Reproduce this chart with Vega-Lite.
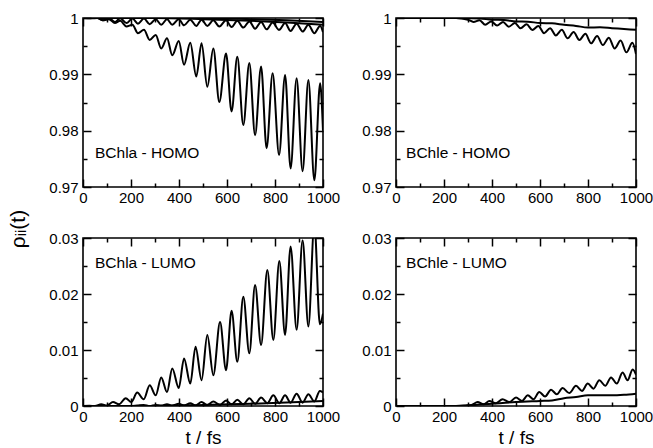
{
"$schema": "https://vega.github.io/schema/vega-lite/v6.json",
"padding": {"left": 8, "top": 10, "right": 5, "bottom": 0},
"background": "white",
"config": {
  "view": {"stroke": "black", "strokeWidth": 1.6},
  "font": "Liberation Sans",
  "axis": {"domain": false, "grid": false, "labelFlush": false, "labelOverlap": false, "labelFont": "Liberation Sans", "labelFontSize": 15, "labelColor": "black", "tickColor": "black", "tickWidth": 1.5, "titleFont": "Liberation Sans", "titleFontSize": 19, "titleFontWeight": "normal", "titleColor": "black"},
  "title": {"font": "Liberation Sans", "fontSize": 21, "fontWeight": "normal", "color": "black"}
},
"title": {"text": "ρᵢᵢ(t)", "orient": "left", "anchor": "middle", "offset": 19},
"datasets": {"d": [
{"p":"aH","s":1,"t":0,"v":1},{"p":"aH","s":1,"t":35,"v":0.99995},{"p":"aH","s":1,"t":60,"v":1},{"p":"aH","s":1,"t":83,"v":0.9996},{"p":"aH","s":1,"t":108,"v":0.9998},{"p":"aH","s":1,"t":133,"v":0.9991},{"p":"aH","s":1,"t":155,"v":0.9995},{"p":"aH","s":1,"t":181,"v":0.9985},{"p":"aH","s":1,"t":206,"v":0.9988},{"p":"aH","s":1,"t":229,"v":0.9973},{"p":"aH","s":1,"t":254,"v":0.9979},{"p":"aH","s":1,"t":278,"v":0.9961},{"p":"aH","s":1,"t":303,"v":0.997},{"p":"aH","s":1,"t":326,"v":0.9946},{"p":"aH","s":1,"t":350,"v":0.9964},{"p":"aH","s":1,"t":372,"v":0.9934},{"p":"aH","s":1,"t":399,"v":0.9959},{"p":"aH","s":1,"t":421,"v":0.9917},{"p":"aH","s":1,"t":447,"v":0.9956},{"p":"aH","s":1,"t":472,"v":0.9896},{"p":"aH","s":1,"t":494,"v":0.9955},{"p":"aH","s":1,"t":518,"v":0.9878},{"p":"aH","s":1,"t":543,"v":0.9946},{"p":"aH","s":1,"t":568,"v":0.9851},{"p":"aH","s":1,"t":596,"v":0.9937},{"p":"aH","s":1,"t":619,"v":0.9834},{"p":"aH","s":1,"t":643,"v":0.9931},{"p":"aH","s":1,"t":668,"v":0.981},{"p":"aH","s":1,"t":693,"v":0.992},{"p":"aH","s":1,"t":717,"v":0.9792},{"p":"aH","s":1,"t":742,"v":0.9914},{"p":"aH","s":1,"t":765,"v":0.9769},{"p":"aH","s":1,"t":790,"v":0.9902},{"p":"aH","s":1,"t":817,"v":0.9757},{"p":"aH","s":1,"t":842,"v":0.9899},{"p":"aH","s":1,"t":865,"v":0.9733},{"p":"aH","s":1,"t":890,"v":0.9893},{"p":"aH","s":1,"t":915,"v":0.9728},{"p":"aH","s":1,"t":939,"v":0.989},{"p":"aH","s":1,"t":964,"v":0.9712},{"p":"aH","s":1,"t":988,"v":0.9884},{"p":"aH","s":1,"t":1000,"v":0.98},
{"p":"aH","s":2,"t":0,"v":1},{"p":"aH","s":2,"t":60,"v":1},{"p":"aH","s":2,"t":83,"v":0.9996},{"p":"aH","s":2,"t":108,"v":0.99995},{"p":"aH","s":2,"t":133,"v":0.9993},{"p":"aH","s":2,"t":155,"v":0.99995},{"p":"aH","s":2,"t":181,"v":0.9991},{"p":"aH","s":2,"t":206,"v":0.9999},{"p":"aH","s":2,"t":229,"v":0.999},{"p":"aH","s":2,"t":254,"v":0.9999},{"p":"aH","s":2,"t":278,"v":0.9989},{"p":"aH","s":2,"t":303,"v":0.9998},{"p":"aH","s":2,"t":326,"v":0.9988},{"p":"aH","s":2,"t":350,"v":0.9998},{"p":"aH","s":2,"t":372,"v":0.9988},{"p":"aH","s":2,"t":399,"v":0.9998},{"p":"aH","s":2,"t":421,"v":0.9987},{"p":"aH","s":2,"t":447,"v":0.9997},{"p":"aH","s":2,"t":472,"v":0.9986},{"p":"aH","s":2,"t":494,"v":0.9997},{"p":"aH","s":2,"t":518,"v":0.9986},{"p":"aH","s":2,"t":543,"v":0.9996},{"p":"aH","s":2,"t":568,"v":0.9985},{"p":"aH","s":2,"t":596,"v":0.9996},{"p":"aH","s":2,"t":619,"v":0.9984},{"p":"aH","s":2,"t":643,"v":0.9995},{"p":"aH","s":2,"t":668,"v":0.9983},{"p":"aH","s":2,"t":693,"v":0.9994},{"p":"aH","s":2,"t":717,"v":0.9981},{"p":"aH","s":2,"t":742,"v":0.9993},{"p":"aH","s":2,"t":765,"v":0.998},{"p":"aH","s":2,"t":790,"v":0.9992},{"p":"aH","s":2,"t":817,"v":0.9979},{"p":"aH","s":2,"t":842,"v":0.9991},{"p":"aH","s":2,"t":865,"v":0.9977},{"p":"aH","s":2,"t":890,"v":0.999},{"p":"aH","s":2,"t":915,"v":0.9976},{"p":"aH","s":2,"t":939,"v":0.9988},{"p":"aH","s":2,"t":964,"v":0.9973},{"p":"aH","s":2,"t":988,"v":0.9986},{"p":"aH","s":2,"t":1000,"v":0.9975},
{"p":"aH","s":3,"t":0,"v":1},{"p":"aH","s":3,"t":300,"v":1},{"p":"aH","s":3,"t":500,"v":0.9998},{"p":"aH","s":3,"t":700,"v":0.9995},{"p":"aH","s":3,"t":850,"v":0.9992},{"p":"aH","s":3,"t":1000,"v":0.9988},
{"p":"aH","s":4,"t":0,"v":1},{"p":"aH","s":4,"t":500,"v":1},{"p":"aH","s":4,"t":700,"v":0.9998},{"p":"aH","s":4,"t":850,"v":0.9996},{"p":"aH","s":4,"t":1000,"v":0.9993},
{"p":"eH","s":1,"t":0,"v":1},{"p":"eH","s":1,"t":250,"v":1},{"p":"eH","s":1,"t":300,"v":0.99995},{"p":"eH","s":1,"t":350,"v":0.9999},{"p":"eH","s":1,"t":400,"v":0.9997},{"p":"eH","s":1,"t":450,"v":0.99965},{"p":"eH","s":1,"t":500,"v":0.9994},{"p":"eH","s":1,"t":550,"v":0.99935},{"p":"eH","s":1,"t":600,"v":0.9991},{"p":"eH","s":1,"t":650,"v":0.99905},{"p":"eH","s":1,"t":700,"v":0.9988},{"p":"eH","s":1,"t":750,"v":0.9986},{"p":"eH","s":1,"t":800,"v":0.9983},{"p":"eH","s":1,"t":850,"v":0.99835},{"p":"eH","s":1,"t":900,"v":0.9982},{"p":"eH","s":1,"t":950,"v":0.99805},{"p":"eH","s":1,"t":1000,"v":0.9979},
{"p":"eH","s":2,"t":0,"v":1},{"p":"eH","s":2,"t":250,"v":1},{"p":"eH","s":2,"t":300,"v":0.9997},{"p":"eH","s":2,"t":323,"v":0.9993},{"p":"eH","s":2,"t":348,"v":0.9996},{"p":"eH","s":2,"t":372,"v":0.9988},{"p":"eH","s":2,"t":397,"v":0.9994},{"p":"eH","s":2,"t":421,"v":0.99865},{"p":"eH","s":2,"t":446,"v":0.9993},{"p":"eH","s":2,"t":470,"v":0.99846},{"p":"eH","s":2,"t":495,"v":0.9991},{"p":"eH","s":2,"t":519,"v":0.99817},{"p":"eH","s":2,"t":544,"v":0.9989},{"p":"eH","s":2,"t":568,"v":0.99787},{"p":"eH","s":2,"t":593,"v":0.9986},{"p":"eH","s":2,"t":617,"v":0.9973},{"p":"eH","s":2,"t":642,"v":0.9982},{"p":"eH","s":2,"t":666,"v":0.9969},{"p":"eH","s":2,"t":691,"v":0.9979},{"p":"eH","s":2,"t":715,"v":0.9964},{"p":"eH","s":2,"t":740,"v":0.9975},{"p":"eH","s":2,"t":764,"v":0.9961},{"p":"eH","s":2,"t":789,"v":0.9972},{"p":"eH","s":2,"t":813,"v":0.9955},{"p":"eH","s":2,"t":838,"v":0.9968},{"p":"eH","s":2,"t":862,"v":0.9952},{"p":"eH","s":2,"t":887,"v":0.9965},{"p":"eH","s":2,"t":911,"v":0.9946},{"p":"eH","s":2,"t":936,"v":0.996},{"p":"eH","s":2,"t":960,"v":0.9939},{"p":"eH","s":2,"t":985,"v":0.9956},{"p":"eH","s":2,"t":1000,"v":0.9936},
{"p":"aL","s":1,"t":0,"v":0},{"p":"aL","s":1,"t":27,"v":0.00003},{"p":"aL","s":1,"t":50,"v":0},{"p":"aL","s":1,"t":76,"v":0.0003},{"p":"aL","s":1,"t":100,"v":0.0001},{"p":"aL","s":1,"t":125,"v":0.0007},{"p":"aL","s":1,"t":150,"v":0.0003},{"p":"aL","s":1,"t":178,"v":0.0014},{"p":"aL","s":1,"t":201,"v":0.0007},{"p":"aL","s":1,"t":226,"v":0.0024},{"p":"aL","s":1,"t":253,"v":0.0012},{"p":"aL","s":1,"t":278,"v":0.0037},{"p":"aL","s":1,"t":303,"v":0.0019},{"p":"aL","s":1,"t":326,"v":0.0051},{"p":"aL","s":1,"t":350,"v":0.0025},{"p":"aL","s":1,"t":372,"v":0.0067},{"p":"aL","s":1,"t":399,"v":0.0032},{"p":"aL","s":1,"t":421,"v":0.0085},{"p":"aL","s":1,"t":447,"v":0.004},{"p":"aL","s":1,"t":469,"v":0.0106},{"p":"aL","s":1,"t":494,"v":0.0046},{"p":"aL","s":1,"t":518,"v":0.0127},{"p":"aL","s":1,"t":543,"v":0.0055},{"p":"aL","s":1,"t":571,"v":0.015},{"p":"aL","s":1,"t":596,"v":0.0064},{"p":"aL","s":1,"t":619,"v":0.017},{"p":"aL","s":1,"t":643,"v":0.0079},{"p":"aL","s":1,"t":668,"v":0.0195},{"p":"aL","s":1,"t":693,"v":0.0094},{"p":"aL","s":1,"t":717,"v":0.0216},{"p":"aL","s":1,"t":742,"v":0.0109},{"p":"aL","s":1,"t":768,"v":0.0243},{"p":"aL","s":1,"t":793,"v":0.0118},{"p":"aL","s":1,"t":818,"v":0.0259},{"p":"aL","s":1,"t":842,"v":0.0127},{"p":"aL","s":1,"t":865,"v":0.0285},{"p":"aL","s":1,"t":890,"v":0.0136},{"p":"aL","s":1,"t":915,"v":0.0296},{"p":"aL","s":1,"t":939,"v":0.0142},{"p":"aL","s":1,"t":964,"v":0.0325},{"p":"aL","s":1,"t":987,"v":0.0146},{"p":"aL","s":1,"t":1000,"v":0.0165},
{"p":"aL","s":2,"t":0,"v":0},{"p":"aL","s":2,"t":200,"v":0},{"p":"aL","s":2,"t":226,"v":0.0001},{"p":"aL","s":2,"t":253,"v":0.0002},{"p":"aL","s":2,"t":278,"v":0},{"p":"aL","s":2,"t":303,"v":0.0002},{"p":"aL","s":2,"t":326,"v":0.0001},{"p":"aL","s":2,"t":350,"v":0.0003},{"p":"aL","s":2,"t":372,"v":0.0001},{"p":"aL","s":2,"t":399,"v":0.0004},{"p":"aL","s":2,"t":421,"v":0.0001},{"p":"aL","s":2,"t":447,"v":0.0005},{"p":"aL","s":2,"t":469,"v":0.0001},{"p":"aL","s":2,"t":494,"v":0.0007},{"p":"aL","s":2,"t":518,"v":0.0002},{"p":"aL","s":2,"t":543,"v":0.0008},{"p":"aL","s":2,"t":571,"v":0.0002},{"p":"aL","s":2,"t":596,"v":0.001},{"p":"aL","s":2,"t":619,"v":0.0003},{"p":"aL","s":2,"t":643,"v":0.0011},{"p":"aL","s":2,"t":668,"v":0.0003},{"p":"aL","s":2,"t":693,"v":0.0014},{"p":"aL","s":2,"t":717,"v":0.0004},{"p":"aL","s":2,"t":742,"v":0.0015},{"p":"aL","s":2,"t":768,"v":0.0005},{"p":"aL","s":2,"t":793,"v":0.0019},{"p":"aL","s":2,"t":818,"v":0.0005},{"p":"aL","s":2,"t":842,"v":0.0019},{"p":"aL","s":2,"t":865,"v":0.0006},{"p":"aL","s":2,"t":890,"v":0.0022},{"p":"aL","s":2,"t":915,"v":0.0006},{"p":"aL","s":2,"t":939,"v":0.0021},{"p":"aL","s":2,"t":964,"v":0.0008},{"p":"aL","s":2,"t":987,"v":0.0027},{"p":"aL","s":2,"t":1000,"v":0.0024},
{"p":"aL","s":3,"t":0,"v":0},{"p":"aL","s":3,"t":300,"v":0},{"p":"aL","s":3,"t":500,"v":0.0002},{"p":"aL","s":3,"t":700,"v":0.0004},{"p":"aL","s":3,"t":900,"v":0.0007},{"p":"aL","s":3,"t":1000,"v":0.0009},
{"p":"eL","s":1,"t":0,"v":0},{"p":"eL","s":1,"t":250,"v":0},{"p":"eL","s":1,"t":290,"v":0.0001},{"p":"eL","s":1,"t":315,"v":0.0002},{"p":"eL","s":1,"t":340,"v":0.0007},{"p":"eL","s":1,"t":365,"v":0.0003},{"p":"eL","s":1,"t":389,"v":0.0009},{"p":"eL","s":1,"t":416,"v":0.0005},{"p":"eL","s":1,"t":444,"v":0.0012},{"p":"eL","s":1,"t":472,"v":0.0007},{"p":"eL","s":1,"t":500,"v":0.0015},{"p":"eL","s":1,"t":525,"v":0.0009},{"p":"eL","s":1,"t":549,"v":0.0019},{"p":"eL","s":1,"t":573,"v":0.0012},{"p":"eL","s":1,"t":597,"v":0.0025},{"p":"eL","s":1,"t":621,"v":0.0017},{"p":"eL","s":1,"t":646,"v":0.0029},{"p":"eL","s":1,"t":670,"v":0.0021},{"p":"eL","s":1,"t":694,"v":0.0032},{"p":"eL","s":1,"t":722,"v":0.0023},{"p":"eL","s":1,"t":750,"v":0.0036},{"p":"eL","s":1,"t":775,"v":0.0027},{"p":"eL","s":1,"t":799,"v":0.004},{"p":"eL","s":1,"t":823,"v":0.0031},{"p":"eL","s":1,"t":847,"v":0.0046},{"p":"eL","s":1,"t":872,"v":0.0036},{"p":"eL","s":1,"t":896,"v":0.0051},{"p":"eL","s":1,"t":920,"v":0.004},{"p":"eL","s":1,"t":944,"v":0.006},{"p":"eL","s":1,"t":965,"v":0.0046},{"p":"eL","s":1,"t":986,"v":0.0065},{"p":"eL","s":1,"t":1000,"v":0.0056},
{"p":"eL","s":2,"t":0,"v":0},{"p":"eL","s":2,"t":250,"v":0},{"p":"eL","s":2,"t":300,"v":0.0001},{"p":"eL","s":2,"t":400,"v":0.0004},{"p":"eL","s":2,"t":500,"v":0.0007},{"p":"eL","s":2,"t":600,"v":0.0009},{"p":"eL","s":2,"t":650,"v":0.001},{"p":"eL","s":2,"t":700,"v":0.0014},{"p":"eL","s":2,"t":750,"v":0.0016},{"p":"eL","s":2,"t":800,"v":0.0019},{"p":"eL","s":2,"t":850,"v":0.0019},{"p":"eL","s":2,"t":900,"v":0.0019},{"p":"eL","s":2,"t":950,"v":0.002},{"p":"eL","s":2,"t":1000,"v":0.0022}
]},
"columns": 2,
"spacing": {"row": 51, "column": 73},
"bounds": "flush",
"concat": [
{"width": 240, "height": 169,
 "layer": [
  {"data": {"name": "d"}, "transform": [{"filter": "datum.p === 'aH'"}],
   "mark": {"type": "line", "interpolate": "monotone", "clip": true, "color": "black", "strokeWidth": 2},
   "encoding": {
    "x": {"field": "t", "type": "quantitative", "scale": {"domain": [0, 1000], "nice": false}, "axis": {"orient": "bottom", "title": null, "values": [0,100,200,300,400,500,600,700,800,900,1000], "format": "d", "labelExpr": "datum.value % 200 === 0 ? datum.label : ''", "tickSize": {"condition": {"test": "datum.value % 200 === 0", "value": -8}, "value": -4}, "labelPadding": 11}},
    "y": {"field": "v", "type": "quantitative", "scale": {"domain": [0.97, 1], "nice": false, "zero": false}, "axis": {"orient": "left", "title": null, "values": [0.97,0.975,0.98,0.985,0.99,0.995,1], "labelExpr": "abs(datum.value*100-round(datum.value*100))<0.01 ? format(datum.value, '~g') : ''", "tickSize": {"condition": {"test": "abs(datum.value*100-round(datum.value*100))<0.01", "value": -8}, "value": -4}, "labelPadding": 13}},
    "detail": {"field": "s"}}},
  {"data": {"name": "d"}, "transform": [{"filter": "datum.p === 'aH'"}],
   "mark": {"type": "line", "interpolate": "monotone", "clip": true, "strokeOpacity": 0},
   "encoding": {
    "x": {"field": "t", "type": "quantitative", "axis": {"orient": "top", "title": null, "labels": false, "values": [0,100,200,300,400,500,600,700,800,900,1000], "tickSize": {"condition": {"test": "datum.value % 200 === 0", "value": -8}, "value": -4}}},
    "y": {"field": "v", "type": "quantitative", "axis": {"orient": "right", "title": null, "labels": false, "values": [0.97,0.975,0.98,0.985,0.99,0.995,1], "tickSize": {"condition": {"test": "abs(datum.value*100-round(datum.value*100))<0.01", "value": -8}, "value": -4}}},
    "detail": {"field": "s"}}},
  {"data": {"values": [{}]},
   "mark": {"type": "text", "align": "left", "baseline": "middle", "fontSize": 15.5, "font": "Liberation Sans", "color": "black"},
   "encoding": {"x": {"datum": 50, "type": "quantitative", "axis": null}, "y": {"datum": 0.976, "type": "quantitative", "axis": null}, "text": {"value": "BChla - HOMO"}}}
 ],
 "resolve": {"axis": {"x": "independent", "y": "independent"}}
},
{"width": 240, "height": 169,
 "layer": [
  {"data": {"name": "d"}, "transform": [{"filter": "datum.p === 'eH'"}],
   "mark": {"type": "line", "interpolate": "monotone", "clip": true, "color": "black", "strokeWidth": 2},
   "encoding": {
    "x": {"field": "t", "type": "quantitative", "scale": {"domain": [0, 1000], "nice": false}, "axis": {"orient": "bottom", "title": null, "values": [0,100,200,300,400,500,600,700,800,900,1000], "format": "d", "labelExpr": "datum.value % 200 === 0 ? datum.label : ''", "tickSize": {"condition": {"test": "datum.value % 200 === 0", "value": -8}, "value": -4}, "labelPadding": 11}},
    "y": {"field": "v", "type": "quantitative", "scale": {"domain": [0.97, 1], "nice": false, "zero": false}, "axis": {"orient": "left", "title": null, "values": [0.97,0.975,0.98,0.985,0.99,0.995,1], "labelExpr": "abs(datum.value*100-round(datum.value*100))<0.01 ? format(datum.value, '~g') : ''", "tickSize": {"condition": {"test": "abs(datum.value*100-round(datum.value*100))<0.01", "value": -8}, "value": -4}, "labelPadding": 13}},
    "detail": {"field": "s"}}},
  {"data": {"name": "d"}, "transform": [{"filter": "datum.p === 'eH'"}],
   "mark": {"type": "line", "interpolate": "monotone", "clip": true, "strokeOpacity": 0},
   "encoding": {
    "x": {"field": "t", "type": "quantitative", "axis": {"orient": "top", "title": null, "labels": false, "values": [0,100,200,300,400,500,600,700,800,900,1000], "tickSize": {"condition": {"test": "datum.value % 200 === 0", "value": -8}, "value": -4}}},
    "y": {"field": "v", "type": "quantitative", "axis": {"orient": "right", "title": null, "labels": false, "values": [0.97,0.975,0.98,0.985,0.99,0.995,1], "tickSize": {"condition": {"test": "abs(datum.value*100-round(datum.value*100))<0.01", "value": -8}, "value": -4}}},
    "detail": {"field": "s"}}},
  {"data": {"values": [{}]},
   "mark": {"type": "text", "align": "left", "baseline": "middle", "fontSize": 15.5, "font": "Liberation Sans", "color": "black"},
   "encoding": {"x": {"datum": 42, "type": "quantitative", "axis": null}, "y": {"datum": 0.976, "type": "quantitative", "axis": null}, "text": {"value": "BChle - HOMO"}}}
 ],
 "resolve": {"axis": {"x": "independent", "y": "independent"}}
},
{"width": 240, "height": 168,
 "layer": [
  {"data": {"name": "d"}, "transform": [{"filter": "datum.p === 'aL'"}],
   "mark": {"type": "line", "interpolate": "monotone", "clip": true, "color": "black", "strokeWidth": 2},
   "encoding": {
    "x": {"field": "t", "type": "quantitative", "scale": {"domain": [0, 1000], "nice": false}, "axis": {"orient": "bottom", "title": "t / fs", "titlePadding": 0, "values": [0,100,200,300,400,500,600,700,800,900,1000], "format": "d", "labelExpr": "datum.value % 200 === 0 ? datum.label : ''", "tickSize": {"condition": {"test": "datum.value % 200 === 0", "value": -8}, "value": -4}, "labelPadding": 11}},
    "y": {"field": "v", "type": "quantitative", "scale": {"domain": [0, 0.03], "nice": false, "zero": false}, "axis": {"orient": "left", "title": null, "values": [0,0.005,0.01,0.015,0.02,0.025,0.03], "labelExpr": "abs(datum.value*100-round(datum.value*100))<0.01 ? format(datum.value, '~g') : ''", "tickSize": {"condition": {"test": "abs(datum.value*100-round(datum.value*100))<0.01", "value": -8}, "value": -4}, "labelPadding": 13}},
    "detail": {"field": "s"}}},
  {"data": {"name": "d"}, "transform": [{"filter": "datum.p === 'aL'"}],
   "mark": {"type": "line", "interpolate": "monotone", "clip": true, "strokeOpacity": 0},
   "encoding": {
    "x": {"field": "t", "type": "quantitative", "axis": {"orient": "top", "title": null, "labels": false, "values": [0,100,200,300,400,500,600,700,800,900,1000], "tickSize": {"condition": {"test": "datum.value % 200 === 0", "value": -8}, "value": -4}}},
    "y": {"field": "v", "type": "quantitative", "axis": {"orient": "right", "title": null, "labels": false, "values": [0,0.005,0.01,0.015,0.02,0.025,0.03], "tickSize": {"condition": {"test": "abs(datum.value*100-round(datum.value*100))<0.01", "value": -8}, "value": -4}}},
    "detail": {"field": "s"}}},
  {"data": {"values": [{}]},
   "mark": {"type": "text", "align": "left", "baseline": "middle", "fontSize": 15.5, "font": "Liberation Sans", "color": "black"},
   "encoding": {"x": {"datum": 50, "type": "quantitative", "axis": null}, "y": {"datum": 0.0255, "type": "quantitative", "axis": null}, "text": {"value": "BChla - LUMO"}}}
 ],
 "resolve": {"axis": {"x": "independent", "y": "independent"}}
},
{"width": 240, "height": 168,
 "layer": [
  {"data": {"name": "d"}, "transform": [{"filter": "datum.p === 'eL'"}],
   "mark": {"type": "line", "interpolate": "monotone", "clip": true, "color": "black", "strokeWidth": 2},
   "encoding": {
    "x": {"field": "t", "type": "quantitative", "scale": {"domain": [0, 1000], "nice": false}, "axis": {"orient": "bottom", "title": "t / fs", "titlePadding": 0, "values": [0,100,200,300,400,500,600,700,800,900,1000], "format": "d", "labelExpr": "datum.value % 200 === 0 ? datum.label : ''", "tickSize": {"condition": {"test": "datum.value % 200 === 0", "value": -8}, "value": -4}, "labelPadding": 11}},
    "y": {"field": "v", "type": "quantitative", "scale": {"domain": [0, 0.03], "nice": false, "zero": false}, "axis": {"orient": "left", "title": null, "values": [0,0.005,0.01,0.015,0.02,0.025,0.03], "labelExpr": "abs(datum.value*100-round(datum.value*100))<0.01 ? format(datum.value, '~g') : ''", "tickSize": {"condition": {"test": "abs(datum.value*100-round(datum.value*100))<0.01", "value": -8}, "value": -4}, "labelPadding": 13}},
    "detail": {"field": "s"}}},
  {"data": {"name": "d"}, "transform": [{"filter": "datum.p === 'eL'"}],
   "mark": {"type": "line", "interpolate": "monotone", "clip": true, "strokeOpacity": 0},
   "encoding": {
    "x": {"field": "t", "type": "quantitative", "axis": {"orient": "top", "title": null, "labels": false, "values": [0,100,200,300,400,500,600,700,800,900,1000], "tickSize": {"condition": {"test": "datum.value % 200 === 0", "value": -8}, "value": -4}}},
    "y": {"field": "v", "type": "quantitative", "axis": {"orient": "right", "title": null, "labels": false, "values": [0,0.005,0.01,0.015,0.02,0.025,0.03], "tickSize": {"condition": {"test": "abs(datum.value*100-round(datum.value*100))<0.01", "value": -8}, "value": -4}}},
    "detail": {"field": "s"}}},
  {"data": {"values": [{}]},
   "mark": {"type": "text", "align": "left", "baseline": "middle", "fontSize": 15.5, "font": "Liberation Sans", "color": "black"},
   "encoding": {"x": {"datum": 42, "type": "quantitative", "axis": null}, "y": {"datum": 0.0255, "type": "quantitative", "axis": null}, "text": {"value": "BChle - LUMO"}}}
 ],
 "resolve": {"axis": {"x": "independent", "y": "independent"}}
}
]
}
